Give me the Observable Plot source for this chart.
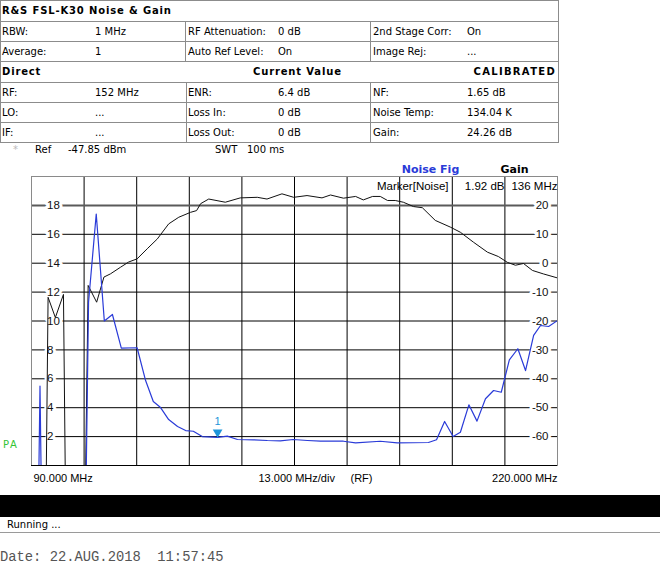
<!DOCTYPE html>
<html><head><meta charset="utf-8">
<script src="https://cdn.jsdelivr.net/npm/d3@7"></script>
<script src="https://cdn.jsdelivr.net/npm/@observablehq/plot@0.6"></script>
<style>
body{margin:0;background:#fff;}
#page{position:relative;width:660px;height:581px;overflow:hidden;font-family:"DejaVu Sans",Verdana,sans-serif;font-size:10px;color:#000;}
.t{position:absolute;white-space:nowrap;}
.hl{position:absolute;height:1px;background:#8c8c8c;}
.vl{position:absolute;width:1px;background:#8c8c8c;}
.b{font-weight:bold;letter-spacing:0.85px;}
#chart{position:absolute;left:0;top:160px;}
</style>
</head><body><div id="page"></div>
<script>
// ---------- data ----------
const title = "R&S FSL-K30 Noise & Gain";
const setupRows = [
  ["RBW:", "1 MHz", "RF Attenuation:", "0 dB", "2nd Stage Corr:", "On"],
  ["Average:", "1", "Auto Ref Level:", "On", "Image Rej:", "..."]
];
const sectionHeads = ["Direct", "Current Value", "CALIBRATED"];
const resultRows = [
  ["RF:", "152 MHz", "ENR:", "6.4 dB", "NF:", "1.65 dB"],
  ["LO:", "...", "Loss In:", "0 dB", "Noise Temp:", "134.04 K"],
  ["IF:", "...", "Loss Out:", "0 dB", "Gain:", "24.26 dB"]
];
const refLine = ["*", "Ref", "-47.85 dBm", "SWT", "100 ms"];

// Noise figure trace (MHz, dB)
const freqNF = [91.8, 92.1, 92.4, 103.5, 104.1, 106.0, 108.0, 110.0, 112.2, 116.1,
  118.2, 120.1, 121.9, 123.9, 126.1, 128.1, 130.0, 132.2, 136.0, 138.4,
  140.9, 144.9, 148.3, 151.5, 154.7, 158.2, 161.4, 167.1, 170.1, 176.2,
  180.4, 188.1, 190.1, 192.1, 194.2, 196.0, 198.1, 200.1, 202.2, 204.2,
  206.1, 208.1, 210.2, 212.1, 214.1, 215.8, 217.8, 220.0];
const noiseFig = [-1, 5.5, -1, -1, 11.3, 17.4, 10.0, 10.45, 8.12, 8.15,
  5.88, 4.43, 4.01, 3.18, 2.70, 2.42, 2.37, 2.0, 1.95, 2.03,
  1.80, 1.78, 1.73, 1.71, 1.80, 1.73, 1.68, 1.68, 1.57, 1.68,
  1.57, 1.59, 1.78, 3.05, 2.01, 2.30, 4.20, 3.07, 4.62, 5.19,
  5.07, 7.31, 8.08, 6.57, 9.0, 9.69, 9.62, 10.03];

// Gain trace (MHz, dB)
const freqGain = [93.6, 94.1, 95.9, 97.9, 98.4, 103.3, 104.0, 106.1, 107.9, 109.5,
  112.0, 114.0, 116.1, 118.6, 121.1, 123.9, 126.4, 129.3, 130.8, 131.8,
  133.8, 137.9, 141.6, 145.8, 148.2, 151.9, 154.8, 158.1, 161.8, 163.9,
  167.1, 170.1, 172.0, 174.3, 176.2, 178.0, 179.9, 181.9, 184.4, 186.6,
  189.8, 193.5, 196.0, 199.2, 202.7, 205.4, 207.6, 209.6, 211.6, 213.8,
  216.5, 220.0];
const gainDb = [-80, -11.8, -18.8, -10.8, -80, -80, -7.7, -13.5, -4.8, -3.7,
  -1.4, 0.4, 1.5, 5.0, 8.4, 13.6, 15.9, 17.6, 18.2, 20.6,
  22.2, 21.1, 22.6, 22.8, 22.2, 24.0, 22.8, 23.4, 22.6, 23.6,
  22.5, 23.1, 21.9, 23.1, 23.1, 21.7, 21.7, 21.1, 19.6, 19.2,
  14.8, 12.5, 10.7, 7.3, 3.8, 2.3, 0.3, -0.7, -0.1, -2.5,
  -3.7, -5.1];

const leftTicks = [2, 4, 6, 8, 10, 12, 14, 16, 18];
const rightTicks = [-60, -50, -40, -30, -20, -10, 0, 10, 20];
const xGridMHz = [103, 116, 129, 142, 155, 168, 181, 194, 207];
const markerFreq = 136, markerNF = 1.92, markerLabel = "1";
const legendNames = ["Noise Fig", "Gain"];
const markerInfo = ["Marker[Noise]", "1.92 dB", "136 MHz"];
const xLabels = ["90.000 MHz", "13.000 MHz/div", "(RF)", "220.000 MHz"];
const statusText = "Running ...";
const dateText = "Date: 22.AUG.2018\u00a0\u00a011:57:45";

// ---------- header (HTML) ----------
const page = document.getElementById("page");
function add(cls, css, text) {
  const d = document.createElement("div");
  d.className = cls; Object.assign(d.style, css);
  if (text !== undefined) d.textContent = text;
  page.appendChild(d); return d;
}
const rowTops = [0, 21, 41, 61, 82, 102, 122, 142];
rowTops.forEach(y => add("hl", {left: "0px", top: y + "px", width: "559px"}));
add("vl", {left: "0px", top: "0px", height: "143px"});
add("vl", {left: "558px", top: "0px", height: "143px"});
add("vl", {left: "185px", top: "21px", height: "41px"});
add("vl", {left: "370px", top: "21px", height: "41px"});
add("vl", {left: "186px", top: "82px", height: "61px"});
add("vl", {left: "370px", top: "82px", height: "61px"});
const colX = [2, 95, 188, 278, 373, 467];
function rowText(cells, top, h) {
  cells.forEach((c, i) => add("t", {left: colX[i] + "px", top: top + "px", height: h + "px", lineHeight: h + "px"}, c));
}
add("t b", {left: "2px", top: "1px", height: "20px", lineHeight: "20px"}, title);
rowText(setupRows[0], 22, 19);
rowText(setupRows[1], 42, 19);
add("t b", {left: "2px", top: "62px", height: "20px", lineHeight: "20px"}, sectionHeads[0]);
add("t b", {left: "253px", top: "62px", height: "20px", lineHeight: "20px"}, sectionHeads[1]);
add("t b", {right: "104px", top: "62px", height: "20px", lineHeight: "20px", letterSpacing: "1.3px"}, sectionHeads[2]);
resultRows.forEach((r, i) => rowText(r, 83 + i * 20, 19));
const refX = [13, 35, 68, 215, 247];
refLine.forEach((t, i) => add("t", {left: refX[i] + "px", top: "143px", height: "14px", lineHeight: "14px", color: i === 0 ? "#bbb" : "#000"}, t));
add("t", {left: "3px", top: "438px", height: "14px", lineHeight: "14px", color: "#33c433", letterSpacing: "1.5px"}, "PA");

// ---------- chart (Plot) ----------
const toNF = g => (g + 70) / 5;   // map gain axis (-70..30) onto NF axis (0..20)
const nfData = freqNF.map((f, i) => ({f, v: noiseFig[i]}));
const gainData = freqGain.map((f, i) => ({f, v: toNF(gainDb[i])}));
const blue = "#2a3bd8", cyan = "#1e96da";
const sans = "Liberation Sans, Arial, sans-serif";

const chart = Plot.plot({
  width: 660, height: 333,
  marginLeft: 31, marginRight: 103, marginTop: 16, marginBottom: 28,
  x: {domain: [90, 220], axis: null},
  y: {domain: [0, 20], axis: null},
  style: {fontFamily: sans, fontSize: "11px", background: "transparent", overflow: "visible"},
  marks: [
    Plot.ruleX(xGridMHz, {stroke: "#000", strokeWidth: 1}),
    Plot.ruleY(leftTicks.filter(t => t !== 18), {stroke: "#000", strokeWidth: 1}),
    Plot.ruleY([18], {stroke: "#5a5a5a", strokeWidth: 2}),
    Plot.frame({stroke: "#8a8a8a"}),
    Plot.ruleY([0], {stroke: "#000"}),
    Plot.text(leftTicks, {y: d => d, text: d => String(d), frameAnchor: "left", textAnchor: "start", lineAnchor: "middle",
      dx: 15.5, fill: "#111", stroke: "white", strokeWidth: 6, fontSize: 11.5, fontFamily: sans}),
    Plot.text(rightTicks, {y: toNF, text: d => String(d), frameAnchor: "right", textAnchor: "end", lineAnchor: "middle",
      dx: -9, fill: "#111", stroke: "white", strokeWidth: 6, fontSize: 11.5, fontFamily: sans}),
    Plot.line(gainData, {x: "f", y: "v", stroke: "#111", strokeWidth: 1, clip: true}),
    Plot.line(nfData, {x: "f", y: "v", stroke: blue, strokeWidth: 1.2, clip: true}),
    Plot.dot([markerFreq], {x: d => d, y: () => markerNF, symbol: "triangle", rotate: 180, r: 3.6, dy: -5.5, fill: cyan, stroke: "none"}),
    Plot.text([markerLabel], {x: () => markerFreq, y: () => markerNF, text: d => d, dy: -16, fill: cyan, fontSize: 11, fontFamily: sans}),
    Plot.text([legendNames[0]], {text: d => d, frameAnchor: "top", textAnchor: "middle", lineAnchor: "middle", dx: 136, dy: -7,
      fill: blue, fontWeight: "bold", fontSize: 11, fontFamily: "DejaVu Sans"}),
    Plot.text([legendNames[1]], {text: d => d, frameAnchor: "top", textAnchor: "middle", lineAnchor: "middle", dx: 220, dy: -7,
      fill: "#000", fontWeight: "bold", fontSize: 11, fontFamily: "DejaVu Sans"}),
    Plot.text([markerInfo[0]], {text: d => d, frameAnchor: "top-right", textAnchor: "end", lineAnchor: "middle", dx: -109, dy: 10, fontSize: 11.5, fill: "#000"}),
    Plot.text([markerInfo[1]], {text: d => d, frameAnchor: "top-right", textAnchor: "end", lineAnchor: "middle", dx: -53, dy: 10, fontSize: 11.5, fill: "#000"}),
    Plot.text([markerInfo[2]], {text: d => d, frameAnchor: "top-right", textAnchor: "end", lineAnchor: "middle", dx: 0, dy: 10, fontSize: 11.5, fill: "#000"}),
    Plot.text([xLabels[0]], {text: d => d, frameAnchor: "bottom-left", textAnchor: "start", lineAnchor: "middle", dx: 2, dy: 13, fill: "#000"}),
    Plot.text([xLabels[1]], {text: d => d, frameAnchor: "bottom", textAnchor: "start", lineAnchor: "middle", dx: -36, dy: 13, fill: "#000"}),
    Plot.text([xLabels[2]], {text: d => d, frameAnchor: "bottom", textAnchor: "start", lineAnchor: "middle", dx: 56, dy: 13, fill: "#000"}),
    Plot.text([xLabels[3]], {text: d => d, frameAnchor: "bottom-right", textAnchor: "end", lineAnchor: "middle", dx: 0, dy: 13, fill: "#000"})
  ]
});
chart.id = "chart";
page.appendChild(chart);

// ---------- footer ----------
add("t", {left: "0px", top: "495px", width: "660px", height: "22px", background: "#000"});
add("t", {left: "7px", top: "517px", height: "15px", lineHeight: "15px"}, statusText);
add("t", {left: "0px", top: "532px", width: "660px", height: "1px", background: "#9a9a9a"});
add("t", {left: "0px", top: "549px", height: "18px", lineHeight: "18px", fontFamily: "Liberation Mono, monospace", fontSize: "13.8px", color: "#555"}, dateText);
</script>
</body></html>
